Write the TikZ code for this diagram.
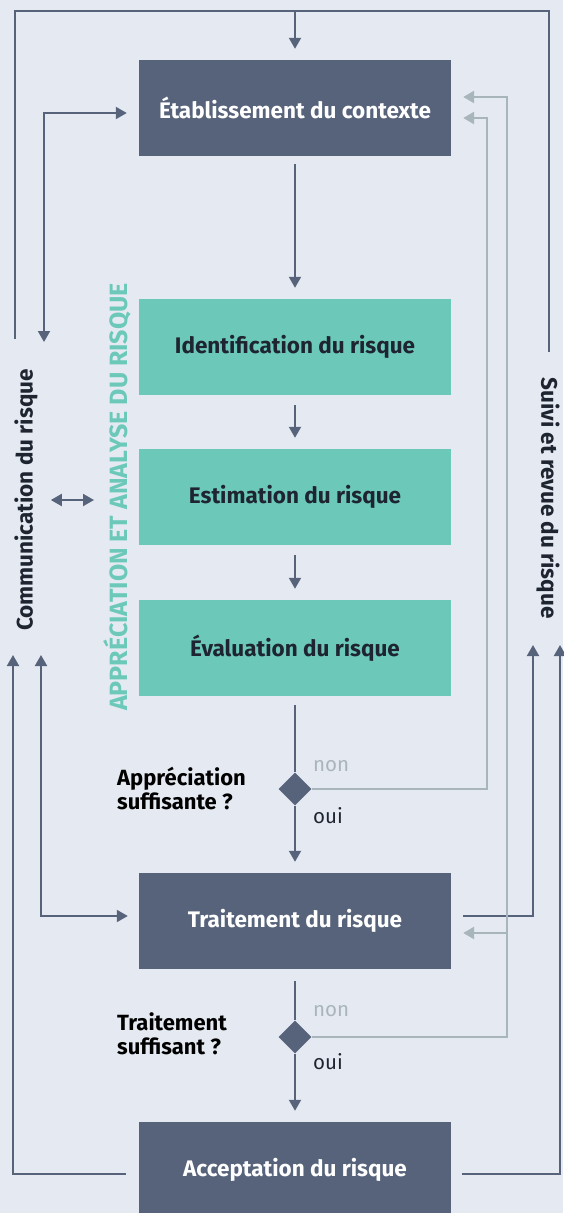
\documentclass[tikz,border=0pt]{standalone}
\usepackage{fontspec}
\setmainfont{Fira Sans}
\usetikzlibrary{arrows.meta,shapes.geometric}

\definecolor{slate}{HTML}{56637A}
\definecolor{mint}{HTML}{6CC9BA}
\definecolor{greyline}{HTML}{A8B5BB}
\definecolor{paper}{HTML}{E5EAF2}
\definecolor{ink}{HTML}{1E2530}

\tikzset{
  >={Triangle[length=11pt,width=12pt]},
  darkbox/.style={fill=slate, text=white, font=\bfseries\fontsize{22.5}{26}\selectfont,
    minimum width=312pt, minimum height=96pt, inner sep=0pt},
  mintbox/.style={darkbox, fill=mint, text=ink},
  decision/.style={diamond, fill=slate, minimum width=33pt, minimum height=33pt, inner sep=0pt},
  sidelabel/.style={text=ink, inner sep=0pt, font=\bfseries\fontsize{22.5}{26}\selectfont},
  phaselabel/.style={text=mint, inner sep=0pt, font=\bfseries\fontsize{25}{28}\selectfont},
  question/.style={text=black, align=left, inner sep=0pt, font=\bfseries\fontsize{22}{24}\selectfont},
  answer/.style={inner sep=0pt, font=\fontsize{20.5}{24}\selectfont},
  link/.style={draw=slate, line width=2pt},
  back/.style={draw=greyline, line width=2.5pt, ->, shorten >=12pt},
}

\begin{document}
\begin{tikzpicture}[x=1pt, y=-1pt]
  \fill[paper] (0,0) rectangle (563,1213);
  \useasboundingbox (0,0) rectangle (563,1213);

  % main column
  \node[darkbox] (etab) at (295,108) {Établissement du contexte};
  \node[mintbox] (ident) at (295,347) {Identification du risque};
  \node[mintbox] (estim) at (295,497) {Estimation du risque};
  \node[mintbox] (evalu) at (295,648) {Évaluation du risque};
  \node[decision] (dec1) at (295,789) {};
  \node[darkbox] (trait) at (295,921) {Traitement du risque};
  \node[decision] (dec2) at (295,1037) {};
  \node[darkbox] (accept) at (295,1170) {Acceptation du risque};

  % side labels
  \node[sidelabel, rotate=90] (comm) at (26,500) {Communication du risque};
  \node[sidelabel, rotate=-90] (suivi) at (548,498) {Suivi et revue du risque};
  \node[phaselabel, rotate=90] (phase) at (117,497) {APPRÉCIATION ET ANALYSE DU RISQUE};
  \node[question, anchor=west] (q1) at (117,788) {Appréciation\\suffisante ?};
  \node[question, anchor=west] (q2) at (117,1034) {Traitement\\suffisant ?};
  \node[answer, text=greyline, anchor=west] (non1) at (313,766) {non};
  \node[answer, text=ink, anchor=west] (oui1) at (313,816) {oui};
  \node[answer, text=greyline, anchor=west] (non2) at (313,1011) {non};
  \node[answer, text=ink, anchor=west] (oui2) at (313,1062) {oui};

  \coordinate (busL) at (15,339);
  \coordinate (busR) at (549,352);
  \coordinate (bus) at (295,11);
  \coordinate (commA) at (44,342);
  \coordinate (commB) at (13,655);
  \coordinate (commC) at (41,655);
  \coordinate (suiviA) at (533,645);
  \coordinate (suiviB) at (560,645);
  \coordinate (back1) at (487,118);
  \coordinate (back2) at (507,97);
  \coordinate (back3) at (507,933);

  % flow down the column
  \draw[link,->,shorten >=11pt] (bus) -- (etab);
  \draw[link,->,shorten <=8pt,shorten >=11pt] (etab) -- (ident);
  \draw[link,->,shorten <=10pt,shorten >=11pt] (ident) -- (estim);
  \draw[link,->,shorten <=10pt,shorten >=11pt] (estim) -- (evalu);
  \draw[link,shorten <=9pt] (evalu) -- (dec1);
  \draw[link,->,shorten >=11pt] (dec1) -- (trait);
  \draw[link,shorten <=12pt] (trait) -- (dec2);
  \draw[link,->,shorten >=11pt] (dec2) -- (accept);

  % communication and review loops
  \draw[link] (busL) |- (bus) -| (busR);
  \draw[link,<->,shorten >=12pt] (commA) |- ([yshift=-5pt]etab.west);
  \draw[link,<->,shorten <=13pt,shorten >=9pt] (comm.south) -- (comm.south -| phase.north);
  \draw[link,->,shorten <=13pt] ([yshift=-4pt]accept.west) -| (commB);
  \draw[link,<->,shorten >=11pt] (commC) |- ([yshift=5pt]trait.west);
  \draw[link,->,shorten <=12pt] ([yshift=5pt]trait.east) -| (suiviA);
  \draw[link,->,shorten <=11pt] ([yshift=-4pt]accept.east) -| (suiviB);

  % feedback when not sufficient
  \draw[back] (dec1.east) -| (back1) -- (back1 -| etab.east);
  \draw[back] (dec2.east) -| (back2) -- (back2 -| etab.east);
  \draw[back] (back3) -- (back3 -| trait.east);
\end{tikzpicture}
\end{document}
